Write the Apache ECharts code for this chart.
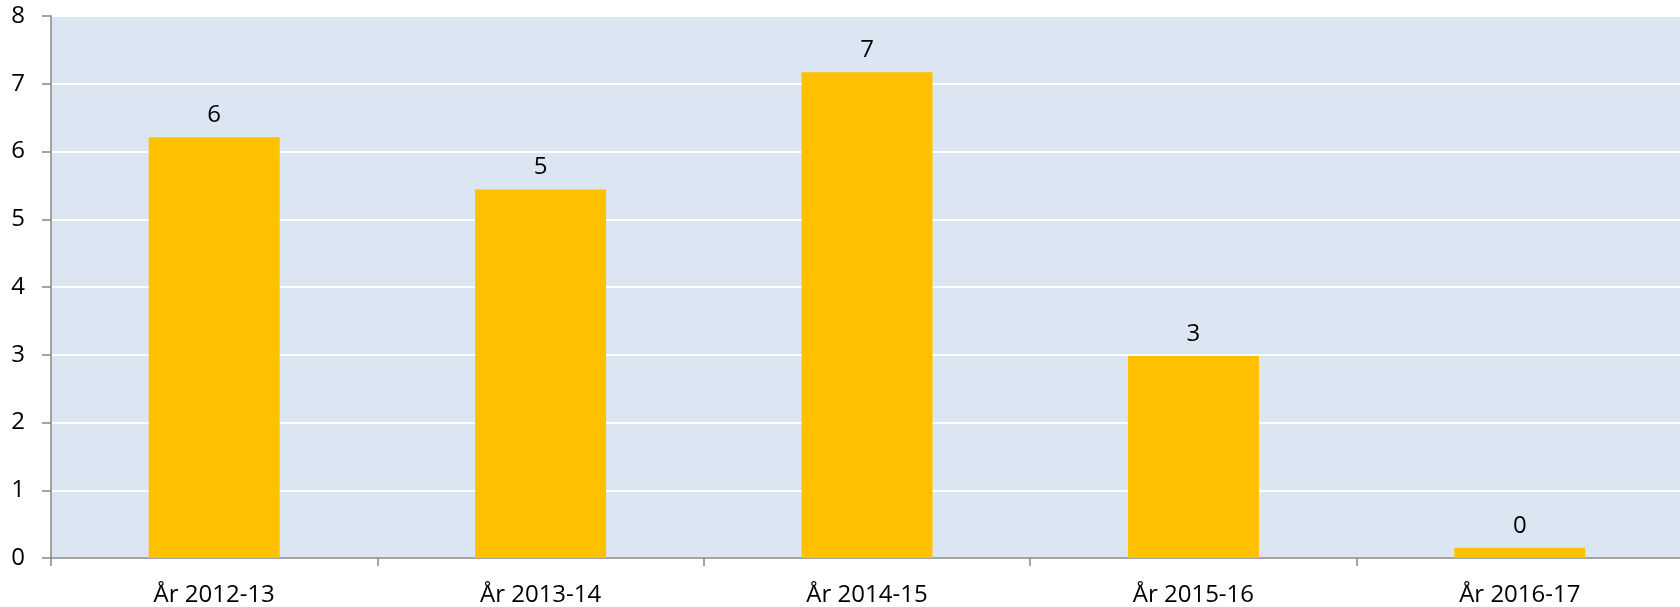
<!DOCTYPE html>
<html>
<head>
<meta charset="utf-8">
<script src="https://cdn.jsdelivr.net/npm/echarts@6/dist/echarts.min.js"></script>
<style>
  html, body { margin: 0; padding: 0; background: #fff; }
  #main { width: 1680px; height: 607px; }
</style>
</head>
<body>
<div id="main"></div>
<script>
// data
var categories = ["År 2012-13", "År 2013-14", "År 2014-15", "År 2015-16", "År 2016-17"];
var values = [6.21, 5.44, 7.17, 2.98, 0.15];
var yTicks = [0, 1, 2, 3, 4, 5, 6, 7, 8];

var chart = echarts.init(document.getElementById("main"));
var font = "'Open Sans', 'Liberation Sans', sans-serif";

var option = {
  animation: false,
  grid: {
    left: 51,
    right: -3,
    top: 16,
    bottom: 49,
    containLabel: false,
    outerBoundsMode: "none",
    show: true,
    backgroundColor: "#DCE6F2",
    borderWidth: 0
  },
  xAxis: {
    type: "category",
    data: categories,
    axisLine: { lineStyle: { color: "#868686", width: 1.5 } },
    axisTick: { show: true, length: 8, lineStyle: { color: "#868686", width: 1.5 } },
    axisLabel: { color: "#000", fontSize: 24, fontFamily: font, margin: 25 }
  },
  yAxis: {
    type: "value",
    min: yTicks[0],
    max: yTicks[yTicks.length - 1],
    interval: 1,
    axisLine: { show: true, lineStyle: { color: "#868686", width: 1.5 } },
    axisTick: { show: true, length: 9, lineStyle: { color: "#868686", width: 1.5 } },
    axisLabel: { color: "#000", fontSize: 24, fontFamily: font, margin: 26 },
    splitLine: { lineStyle: { color: "#ffffff", width: 2 } }
  },
  series: [
    {
      type: "bar",
      data: values,
      barWidth: 131,
      itemStyle: { color: "#FFC000" },
      label: {
        show: true,
        position: "top",
        distance: 10,
        color: "#000",
        fontSize: 24,
        fontFamily: font,
        formatter: function (p) { return Math.round(p.value); }
      }
    }
  ]
};
chart.setOption(option);
</script>
</body>
</html>
